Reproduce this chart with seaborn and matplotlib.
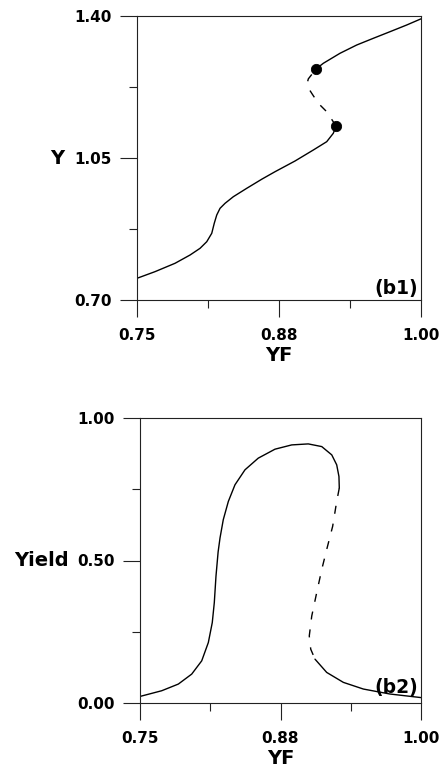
import matplotlib
matplotlib.use("Agg")
import matplotlib.pyplot as plt
import seaborn as sns

# ---------------- data ----------------
# panel (b1): Y versus YF
yf_b1_lower = [0.7500, 0.7658, 0.7835, 0.7967, 0.8055, 0.8114, 0.8158, 0.8180,
               0.8202, 0.8231, 0.8275, 0.8348, 0.8466, 0.8600, 0.8715, 0.8891,
               0.9052, 0.9170, 0.9228, 0.9252]
y_b1_lower = [0.7535, 0.7698, 0.7905, 0.8109, 0.8274, 0.8437, 0.8644, 0.8890,
              0.9095, 0.9260, 0.9383, 0.9546, 0.9753, 0.9980, 1.0162, 1.0426,
              1.0697, 1.0902, 1.1109, 1.1289]
yf_b1_unstable = [0.9252, 0.9170, 0.9096, 0.9038, 0.9005, 0.8999, 0.9008, 0.9076]
y_b1_unstable = [1.1289, 1.1641, 1.1848, 1.2095, 1.2240, 1.2350, 1.2450, 1.2694]
yf_b1_upper = [0.9076, 0.9140, 0.9287, 0.9434, 0.9580, 0.9727, 0.9874, 1.0000]
y_b1_upper = [1.2694, 1.2834, 1.3081, 1.3285, 1.3450, 1.3613, 1.3778, 1.3930]
yf_b1_points = [0.9252, 0.9076]
y_b1_points = [1.1289, 1.2694]

# panel (b2): Yield versus YF
yf_b2_left = [0.7500, 0.7693, 0.7841, 0.7960, 0.8049, 0.8108, 0.8143, 0.8161,
              0.8176, 0.8195, 0.8212, 0.8241, 0.8286, 0.8345, 0.8434, 0.8552,
              0.8701, 0.8850, 0.8997, 0.9117, 0.9206, 0.9250, 0.9270, 0.9273]
yield_b2_left = [0.0230, 0.0430, 0.0664, 0.1014, 0.1479, 0.2122, 0.2822, 0.3521,
                 0.4451, 0.5300, 0.5794, 0.6434, 0.7073, 0.7657, 0.8182, 0.8591,
                 0.8906, 0.9056, 0.9091, 0.8997, 0.8706, 0.8357, 0.7948, 0.7542]
yf_b2_unstable = [0.9273, 0.9250, 0.9214, 0.9161, 0.9117, 0.9072, 0.9028, 0.9006,
                  0.9019, 0.9057]
yield_b2_unstable = [0.7542, 0.7073, 0.6199, 0.5385, 0.4685, 0.3871, 0.3052, 0.2353,
                     0.1888, 0.1538]
yf_b2_right = [0.9057, 0.9161, 0.9309, 0.9487, 0.9724, 1.0000]
yield_b2_right = [0.1538, 0.1073, 0.0724, 0.0490, 0.0315, 0.0190]

x_major = [0.75, 0.875, 1.00]
x_major_labels = ["0.75", "0.88", "1.00"]
x_minor = [0.8125, 0.9375]
y1_major = [0.70, 1.05, 1.40]
y1_major_labels = ["0.70", "1.05", "1.40"]
y1_minor = [0.875, 1.225]
y2_major = [0.00, 0.50, 1.00]
y2_major_labels = ["0.00", "0.50", "1.00"]
y2_minor = [0.25, 0.75]

# ---------------- style ----------------
sns.set_theme(style="ticks")
plt.rcParams["font.family"] = ["DejaVu Sans"]
plt.rcParams["font.weight"] = "bold"
plt.rcParams["axes.labelweight"] = "bold"
plt.rcParams["text.color"] = "black"
plt.rcParams["axes.labelcolor"] = "black"
plt.rcParams["xtick.color"] = "black"
plt.rcParams["ytick.color"] = "black"
plt.rcParams["lines.solid_joinstyle"] = "round"
plt.rcParams["lines.dash_joinstyle"] = "round"

fig = plt.figure(figsize=(4.44, 7.69), dpi=100)
ax1 = fig.add_axes([137 / 444, 1 - 300 / 769, 284 / 444, 284 / 769])
ax2 = fig.add_axes([140 / 444, 1 - 703 / 769, 281 / 444, 285 / 769])

LW = 1.0
DASH = (0, (5.8, 7.2))


def curve(ax, x, y, dashed=False):
    sns.lineplot(x=x, y=y, ax=ax, color="black", linewidth=LW,
                 sort=False, estimator=None)
    line = ax.lines[-1]
    if dashed:
        line.set_linestyle(DASH)
    return line


# panel b1
curve(ax1, yf_b1_lower, y_b1_lower)
curve(ax1, yf_b1_unstable, y_b1_unstable, dashed=True)
curve(ax1, yf_b1_upper, y_b1_upper)
sns.scatterplot(x=yf_b1_points, y=y_b1_points, ax=ax1, color="black", s=55,
                edgecolor="black", zorder=5)

# panel b2
curve(ax2, yf_b2_left, yield_b2_left)
curve(ax2, yf_b2_unstable, yield_b2_unstable, dashed=True)
curve(ax2, yf_b2_right, yield_b2_right)


def style_axes(ax, ymaj, ylab, ymin, ylim, ylabel, panel, panel_y):
    ax.set_xlim(0.75, 1.00)
    ax.set_ylim(*ylim)
    ax.set_xticks(x_major)
    ax.set_xticklabels(x_major_labels)
    ax.set_xticks(x_minor, minor=True)
    ax.set_yticks(ymaj)
    ax.set_yticklabels(ylab)
    ax.set_yticks(ymin, minor=True)
    for s in ax.spines.values():
        s.set_visible(True)
        s.set_linewidth(0.8)
        s.set_color("#222222")
    ax.tick_params(which="major", length=12, width=0.8, color="#222222",
                   labelsize=11, labelcolor="black", direction="out")
    ax.tick_params(which="minor", length=6, width=0.8, color="#222222",
                   direction="out")
    ax.tick_params(axis="x", which="major", pad=8)
    ax.tick_params(axis="y", which="major", pad=6)
    for lab in ax.get_xticklabels() + ax.get_yticklabels():
        lab.set_fontweight("bold")
    ax.set_xlabel("YF", fontsize=14, fontweight="bold", va="top", color="black")
    ax.xaxis.set_label_coords(0.5, -0.163)
    ax.set_ylabel(ylabel, fontsize=14, fontweight="bold", rotation=0,
                  ha="right", va="center", color="black")
    ax.yaxis.set_label_coords(-0.255, 0.5)
    ax.text(0.988, panel_y, panel, transform=ax.transAxes, ha="right",
            va="bottom", fontsize=13.5, fontweight="bold", color="black")


style_axes(ax1, y1_major, y1_major_labels, y1_minor, (0.70, 1.40), "Y", "(b1)", 0.008)
style_axes(ax2, y2_major, y2_major_labels, y2_minor, (0.00, 1.00), "Yield", "(b2)", 0.022)

fig.savefig("out.png", dpi=100)
